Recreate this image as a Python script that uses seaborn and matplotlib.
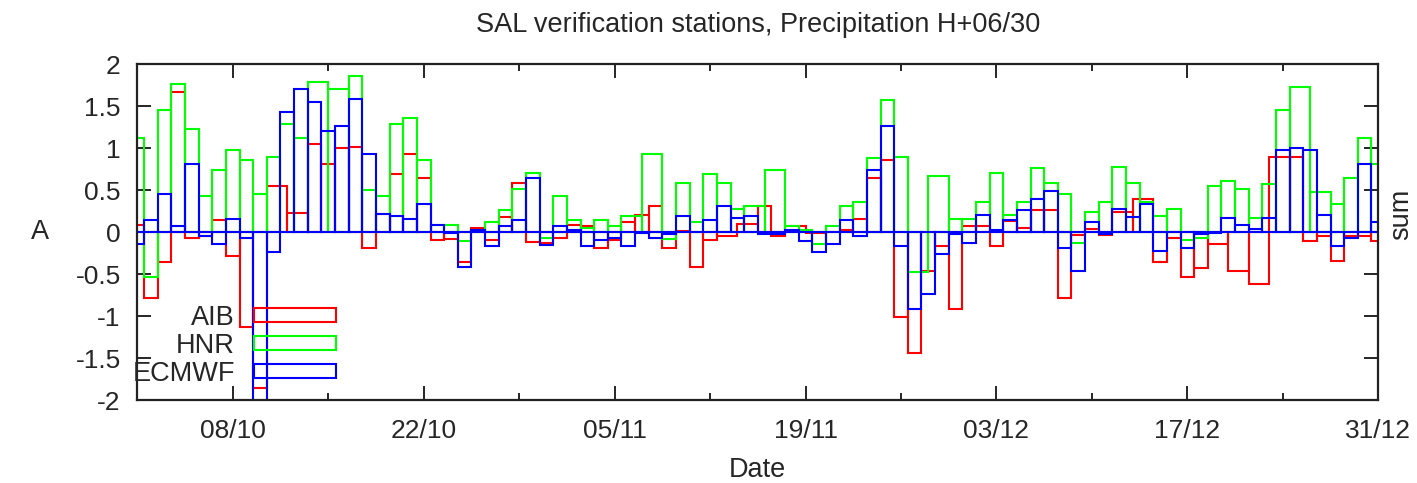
import numpy as np
import pandas as pd
import matplotlib
matplotlib.use("Agg")
import matplotlib.pyplot as plt
import matplotlib.dates as mdates
from matplotlib.ticker import FixedLocator, FormatStrFormatter
import seaborn as sns

# ---------------- data (one value per day, None = missing day) ----------------
start_date = "2011-10-01"
n_days = 92

aib = [0.08, -0.79, -0.36, 1.67, -0.07, -0.05, 0.14, -0.29, -1.13, -1.86,
       0.55, None, 0.23, 1.05, 0.81, 1.00, 1.02, -0.19, 0.22, 0.69,
       0.93, 0.64, -0.09, -0.08, -0.36, 0.05, -0.09, 0.18, 0.59, -0.12,
       -0.13, -0.07, 0.09, 0.07, -0.19, -0.09, 0.12, 0.21, 0.31, -0.19,
       0.01, -0.41, -0.09, -0.05, None, 0.10, 0.31, -0.05, 0.07, None,
       -0.01, 0.00, 0.02, 0.16, 0.65, 0.86, -1.01, -1.44, -0.46, -0.17,
       -0.91, 0.07, 0.07, -0.17, 0.13, 0.05, 0.26, 0.26, -0.79, -0.03,
       0.04, -0.03, 0.24, None, 0.40, -0.35, -0.07, -0.53, -0.43, -0.14,
       None, -0.46, -0.62, None, 0.90, 0.90, -0.10, -0.05, -0.34, -0.04,
       -0.05, -0.11]

hnr = [1.12, -0.53, 1.45, 1.77, 1.23, 0.43, 0.74, 0.98, 0.86, 0.45,
       0.90, 1.29, 1.12, 1.79, None, 1.71, 1.86, 0.50, 0.43, 1.29,
       1.36, 0.86, 0.09, 0.09, -0.10, 0.02, 0.12, 0.26, 0.52, 0.71,
       -0.07, 0.43, 0.14, 0.05, 0.14, 0.07, 0.19, None, 0.93, -0.08,
       0.59, 0.12, 0.69, 0.59, 0.28, 0.31, None, 0.74, 0.07, 0.03,
       -0.14, 0.07, 0.31, 0.36, 0.88, 1.57, 0.90, -0.47, None, 0.67,
       0.16, 0.16, 0.36, 0.71, 0.21, 0.36, 0.76, 0.59, 0.45, -0.13,
       0.24, 0.36, 0.78, 0.59, 0.36, 0.19, 0.28, -0.09, -0.07, 0.55,
       0.61, 0.52, 0.17, 0.57, 1.45, 1.73, None, 0.48, 0.33, 0.64,
       1.12, 0.81]

ecmwf = [-0.14, 0.14, 0.45, 0.07, 0.81, -0.04, -0.14, 0.16, -0.07, -2.30,
         -0.24, 1.43, 1.71, 1.55, 1.20, 1.26, 1.59, 0.93, 0.22, 0.19,
         0.16, 0.33, 0.09, -0.01, -0.41, 0.03, -0.17, 0.07, 0.15, 0.64,
         -0.15, 0.07, 0.03, -0.17, -0.09, -0.07, -0.17, -0.01, -0.07, -0.02,
         0.19, 0.00, 0.15, 0.31, 0.17, 0.19, -0.02, -0.02, 0.02, -0.10,
         -0.24, -0.14, 0.14, -0.05, 0.74, 1.26, -0.17, -0.91, -0.74, -0.26,
         -0.02, -0.13, 0.21, 0.03, 0.14, 0.26, 0.40, 0.49, -0.19, -0.46,
         0.12, -0.02, 0.28, 0.18, 0.34, -0.22, 0.00, -0.19, -0.02, -0.01,
         0.17, 0.09, 0.04, 0.17, 0.98, 1.00, 0.98, 0.21, -0.17, -0.07,
         0.81, 0.12]

series_names = ["AIB", "HNR", "ECMWF"]
series_colors = ["#ff0000", "#00ff00", "#0000ff"]
major_tick_labels = ["08/10", "22/10", "05/11", "19/11", "03/12", "17/12", "31/12"]
minor_tick_labels = ["15/10", "29/10", "12/11", "26/11", "10/12", "24/12"]
y_ticks = [-2, -1.5, -1, -0.5, 0, 0.5, 1, 1.5, 2]

title = "SAL verification stations, Precipitation H+06/30"

# ---------------- style ----------------
sns.set_theme(style="white")
plt.rcParams["font.family"] = ["Liberation Sans", "DejaVu Sans"]
plt.rcParams["axes.unicode_minus"] = False
FS = 19
FS_BIG = 19.5

year = start_date[:4]
dates = pd.date_range(start_date, periods=n_days, freq="D")
xnum = mdates.date2num(dates)

def to_num(lbl):
    d, m = lbl.split("/")
    return mdates.date2num(pd.Timestamp(f"{year}-{m}-{d}"))

fig = plt.figure(figsize=(14.17, 4.83), dpi=100)
L, R, T, B = 137.3 / 1417, 1378.3 / 1417, 64.3 / 483, 400 / 483
ax = fig.add_axes([L, 1 - B, R - L, B - T])

handles = []
for name, vals, color in zip(series_names, [aib, hnr, ecmwf], series_colors):
    v = np.array([np.nan if a is None else a for a in vals], dtype=float)
    ok = ~np.isnan(v)
    xs, vs = xnum[ok], v[ok]
    mids = (xs[1:] + xs[:-1]) / 2
    edges = np.concatenate([[xs[0] - 0.5], mids, [xs[-1] + 0.5]])
    df = pd.DataFrame({"date": xs, "value": vs})
    sns.histplot(data=df, x="date", weights="value", bins=edges.tolist(),
                 element="bars", fill=False, color=color, linewidth=1.5,
                 ax=ax)
    cont = ax.containers[-1]
    cont.set_label(name)
    handles.append(cont)

ax.set_xlim(xnum[0], xnum[-1])
ax.set_ylim(-2, 2)

ax.xaxis.set_major_locator(FixedLocator([to_num(l) for l in major_tick_labels]))
ax.xaxis.set_minor_locator(FixedLocator([to_num(l) for l in minor_tick_labels]))
ax.set_xticklabels(major_tick_labels)
ax.yaxis.set_major_locator(FixedLocator(y_ticks))
ax.yaxis.set_major_formatter(FormatStrFormatter("%g"))

ax.tick_params(which="both", direction="in", top=True, right=True,
               bottom=True, left=True, color="black", width=1.2)
ax.tick_params(which="major", length=10, labelsize=FS)
ax.tick_params(which="minor", length=5)
ax.tick_params(axis="x", which="major", pad=14)
ax.tick_params(axis="y", which="major", pad=12)

for sp in ax.spines.values():
    sp.set_color("#222222")
    sp.set_linewidth(1.6)

ax.set_title(title, fontsize=FS_BIG, pad=23)
ax.set_xlabel("Date", fontsize=FS_BIG, labelpad=10)
ax.set_ylabel("")
fig.text(40 / 1417, 1 - 232 / 483, "A", fontsize=FS_BIG, ha="center", va="center")
fig.text(1401 / 1417, 1 - 214 / 483, "sum", fontsize=FS_BIG, ha="center",
         va="center", rotation=90)

leg = ax.legend(handles=handles, labels=series_names, loc="lower right",
                bbox_to_anchor=(0.160, 0.04), frameon=False,
                markerfirst=False, fontsize=FS_BIG, handlelength=3.03,
                handleheight=0.45, handletextpad=0.7, labelspacing=0.07,
                borderpad=0, borderaxespad=0)

fig.savefig("out.png", dpi=100, facecolor="white")
